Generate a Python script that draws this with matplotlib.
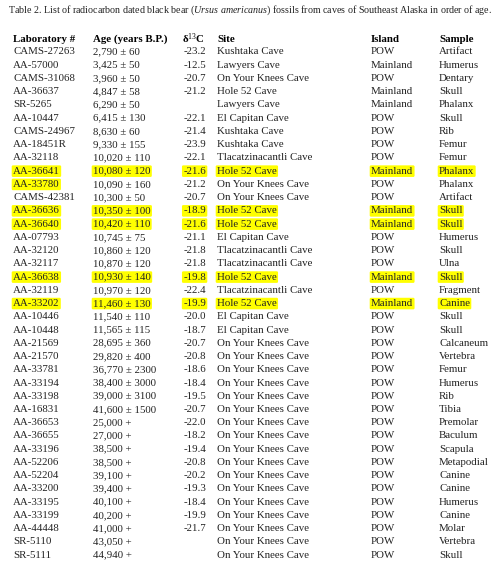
import matplotlib
matplotlib.use("Agg")
import matplotlib.pyplot as plt

lab = ["CAMS-27263","AA-57000","CAMS-31068","AA-36637","SR-5265","AA-10447","CAMS-24967","AA-18451R",
       "AA-32118","AA-36641","AA-33780","CAMS-42381","AA-36636","AA-36640","AA-07793","AA-32120","AA-32117",
       "AA-36638","AA-32119","AA-33202","AA-10446","AA-10448","AA-21569","AA-21570","AA-33781","AA-33194",
       "AA-33198","AA-16831","AA-36653","AA-36655","AA-33196","AA-52206","AA-52204","AA-33200","AA-33195",
       "AA-33199","AA-44448","SR-5110","SR-5111"]
age = ["2,790 ± 60","3,425 ± 50","3,960 ± 50","4,847 ± 58","6,290 ± 50","6,415 ± 130","8,630 ± 60","9,330 ± 155",
       "10,020 ± 110","10,080 ± 120","10,090 ± 160","10,300 ± 50","10,350 ± 100","10,420 ± 110","10,745 ± 75",
       "10,860 ± 120","10,870 ± 120","10,930 ± 140","10,970 ± 120","11,460 ± 130","11,540 ± 110","11,565 ± 115",
       "28,695 ± 360","29,820 ± 400","36,770 ± 2300","38,400 ± 3000","39,000 ± 3100","41,600 ± 1500",
       "25,000 +","27,000 +","38,500 +","38,500 +","39,100 +","39,400 +","40,100 +","40,200 +","41,000 +",
       "43,050 +","44,940 +"]
d13c = ["-23.2","-12.5","-20.7","-21.2","","-22.1","-21.4","-23.9","-22.1","-21.6","-21.2","-20.7","-18.9","-21.6",
        "-21.1","-21.8","-21.8","-19.8","-22.4","-19.9","-20.0","-18.7","-20.7","-20.8","-18.6","-18.4","-19.5",
        "-20.7","-22.0","-18.2","-19.4","-20.8","-20.2","-19.3","-18.4","-19.9","-21.7","",""]
OYK = "On Your Knees Cave"
site = ["Kushtaka Cave","Lawyers Cave",OYK,"Hole 52 Cave","Lawyers Cave","El Capitan Cave","Kushtaka Cave",
        "Kushtaka Cave","Tlacatzinacantli Cave","Hole 52 Cave",OYK,OYK,"Hole 52 Cave","Hole 52 Cave",
        "El Capitan Cave","Tlacatzinacantli Cave","Tlacatzinacantli Cave","Hole 52 Cave","Tlacatzinacantli Cave",
        "Hole 52 Cave","El Capitan Cave","El Capitan Cave"] + [OYK]*17
island = ["POW","Mainland","POW","Mainland","Mainland","POW","POW","POW","POW","Mainland","POW","POW","Mainland",
          "Mainland","POW","POW","POW","Mainland","POW","Mainland"] + ["POW"]*19
sample = ["Artifact","Humerus","Dentary","Skull","Phalanx","Skull","Rib","Femur","Femur","Phalanx","Phalanx",
          "Artifact","Skull","Skull","Humerus","Skull","Ulna","Skull","Fragment","Canine","Skull","Skull",
          "Calcaneum","Vertebra","Femur","Humerus","Rib","Tibia","Premolar","Baculum","Scapula","Metapodial",
          "Canine","Canine","Humerus","Canine","Molar","Vertebra","Skull"]
highlight_rows = [9, 12, 13, 17, 19]
highlight_lab_only = [10]

plt.rcParams['mathtext.fontset'] = 'custom'
plt.rcParams['mathtext.it'] = 'Liberation Serif:italic'
plt.rcParams['mathtext.rm'] = 'Liberation Serif'

fig = plt.figure(figsize=(5, 5.77), dpi=100)
ax = fig.add_axes([0, 0, 1, 1])
ax.set_xlim(0, 500); ax.set_ylim(577, 0); ax.axis("off")
F = "Liberation Serif"; fs = 7.8; col = "#222222"
title = r"Table 2. List of radiocarbon dated black bear ($\it{Ursus\ americanus}$) fossils from caves of Southeast Alaska in order of age."
ax.text(8, 10, title, fontsize=7.2, family=F, va="center", color=col)

xs = [13, 93, 206, 217, 371, 439]
heads = ["Laboratory #", "Age (years B.P.)", r"δ$^{13}$C", "Site", "Island", "Sample"]
for i, h in enumerate(heads):
    x = xs[i] - (24 if i == 2 else 0)
    ax.text(x, 39, h, fontsize=fs, family=F, weight="bold", va="center", color="black")

hb = dict(boxstyle="round,pad=0.12", fc="#ffff00", ec="none")
y0, dy = 52, 13.24
for r in range(len(lab)):
    y = y0 + r * dy
    hl = r in highlight_rows
    vals = [lab[r], age[r], d13c[r], site[r], island[r], sample[r]]
    for i, v in enumerate(vals):
        if not v:
            continue
        use = hl or (i == 0 and r in highlight_lab_only)
        ax.text(xs[i], y, v, fontsize=fs, family=F, va="center", color=col,
                ha="right" if i == 2 else "left", bbox=hb if use else None)
fig.savefig("out.png", dpi=100)
